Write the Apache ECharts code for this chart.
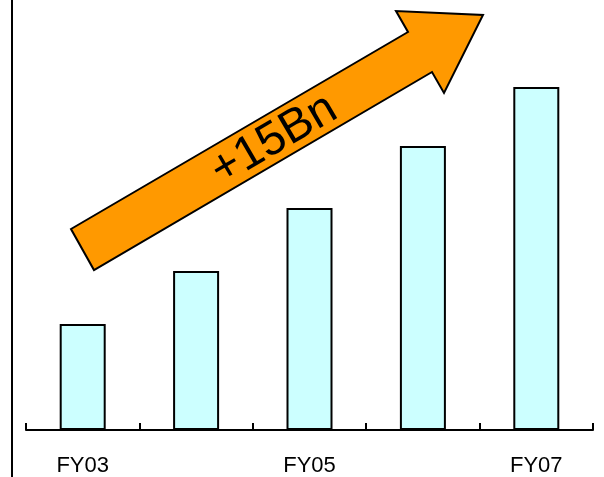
<!DOCTYPE html>
<html>
<head>
<meta charset="utf-8">
<script src="https://cdn.jsdelivr.net/npm/echarts@6/dist/echarts.min.js"></script>
<style>
html,body{margin:0;padding:0;background:#fff;}
#chart{width:604px;height:477px;}
</style>
</head>
<body>
<div id="chart"></div>
<script>
const categories = ['FY03', 'FY04', 'FY05', 'FY06', 'FY07'];
const revenueBn = [6.71, 10.06, 14.05, 17.97, 21.7];
const growthLabel = '+15Bn';

const chart = echarts.init(document.getElementById('chart'), null, {renderer: 'canvas'});
chart.setOption({
  animation: false,
  backgroundColor: '#ffffff',
  grid: {left: 26, right: 11, top: 0, bottom: 47},
  xAxis: {
    type: 'category',
    data: categories,
    axisLine: {show: true, lineStyle: {color: '#000', width: 2}},
    axisTick: {show: true, inside: true, length: 7, interval: 0, lineStyle: {color: '#000', width: 2}},
    axisLabel: {interval: 1, color: '#000', fontFamily: 'Liberation Sans', fontSize: 22, margin: 25}
  },
  yAxis: {
    type: 'value', min: 0, max: 27.2,
    axisLine: {show: false}, axisTick: {show: false}, axisLabel: {show: false}, splitLine: {show: false}
  },
  series: [{
    type: 'bar',
    data: revenueBn,
    barWidth: 46,
    itemStyle: {color: '#CCFFFF', borderColor: '#000', borderWidth: 2}
  }],
  graphic: [
    {type: 'line', shape: {x1: 12, y1: 0, x2: 12, y2: 477}, style: {stroke: '#000', lineWidth: 2}},
    {type: 'polygon', z: 10,
      shape: {points: [[71,229],[408,32],[396,11],[483,15],[444,93],[432,72],[94,270]]},
      style: {fill: '#FF9900', stroke: '#000', lineWidth: 2, lineJoin: 'miter'}},
    {type: 'text', z: 11, x: 274, y: 140, rotation: 30.3 * Math.PI / 180,
      style: {text: growthLabel, fill: '#000', font: '47px "Liberation Sans"', align: 'center', verticalAlign: 'middle'}}
  ]
});
</script>
</body>
</html>
